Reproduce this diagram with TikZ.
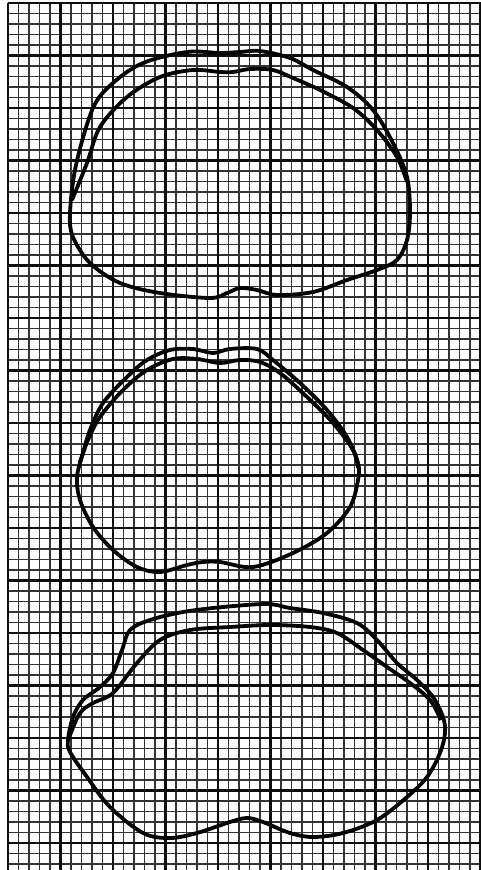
\documentclass[tikz,border=0pt]{standalone}
\begin{document}
\begin{tikzpicture}[
x=1pt, y=-1pt,
minor/.style={line width=1.5pt, black!80},
major/.style={line width=2.2pt, black!95},
outline/.style={line width=3.8pt, line join=round, black}
]
\useasboundingbox (0,0) rectangle (481,870);
% graph paper
\begin{scope}
\clip (7,2) rectangle (481,870);
\foreach \i in {0,...,45}
    \draw[minor] (8+10.5*\i,3) -- (8+10.5*\i,870);
\foreach \j in {0,...,82}
    \draw[minor] (8,3+10.5*\j) -- (480.5,3+10.5*\j);
\foreach \i in {0,...,9}
    \draw[major] (8+52.5*\i,3) -- (8+52.5*\i,870);
\foreach \j in {0,...,16}
    \draw[major] (8,3+52.5*\j) -- (480.5,3+52.5*\j);
\end{scope}
% top section
\draw[outline] plot[smooth cycle, tension=0.55] coordinates {
    (70,213) (76,165) (93,108) (113,83) (143,63) (187,52) (220,53)
    (240,52) (260,51) (290,58) (313,70) (347,87) (373,110) (393,143)
    (407,177) (410,213) (407,240) (397,260) (377,270) (347,280)
    (313,292) (277,295) (257,290) (240,288) (227,293) (210,298)
    (160,293) (120,283) (90,263) (73,237)};
\draw[outline] plot[smooth, tension=0.55] coordinates {
    (72,200) (87,163) (100,127) (127,97) (160,77) (193,70) (220,72)
    (233,72) (250,69) (273,70) (293,78) (320,90) (353,108) (377,130)
    (397,157) (407,182)};
% middle section
\draw[outline] plot[smooth cycle, tension=0.55] coordinates {
    (77,477) (83,453) (90,430) (103,403) (127,377) (147,360) (170,350)
    (193,349) (213,353) (230,349) (257,349) (273,360) (300,383)
    (327,410) (347,437) (358,463) (358,480) (350,507) (327,533)
    (293,553) (253,567) (220,562) (203,562) (187,565) (160,572)
    (137,567) (113,550) (93,527) (80,500)};
\draw[outline] plot[smooth, tension=0.55] coordinates {
    (80,462) (88,440) (100,417) (123,390) (147,370) (173,359) (197,359)
    (220,363) (240,360) (260,362) (280,373) (307,397) (333,423)
    (353,450) (358,468)};
% bottom section
\draw[outline] plot[smooth cycle, tension=0.55] coordinates {
    (68,740) (73,717) (83,700) (100,687) (113,673) (122,650) (130,630)
    (150,620) (183,612) (223,607) (267,604) (290,608) (323,613)
    (357,623) (377,640) (397,663) (417,680) (433,697) (443,717)
    (445,733) (440,753) (427,777) (407,797) (377,820) (343,833)
    (313,837) (290,833) (263,822) (247,818) (230,822) (197,833)
    (170,838) (143,833) (110,807) (87,777) (70,752)};
\draw[outline] plot[smooth, tension=0.55] coordinates {
    (70,735) (80,713) (93,703) (113,693) (137,663) (160,640) (190,630)
    (230,627) (270,625) (310,627) (337,633) (363,650) (387,667)
    (410,683) (430,700) (441,720)};
\end{tikzpicture}
\end{document}
